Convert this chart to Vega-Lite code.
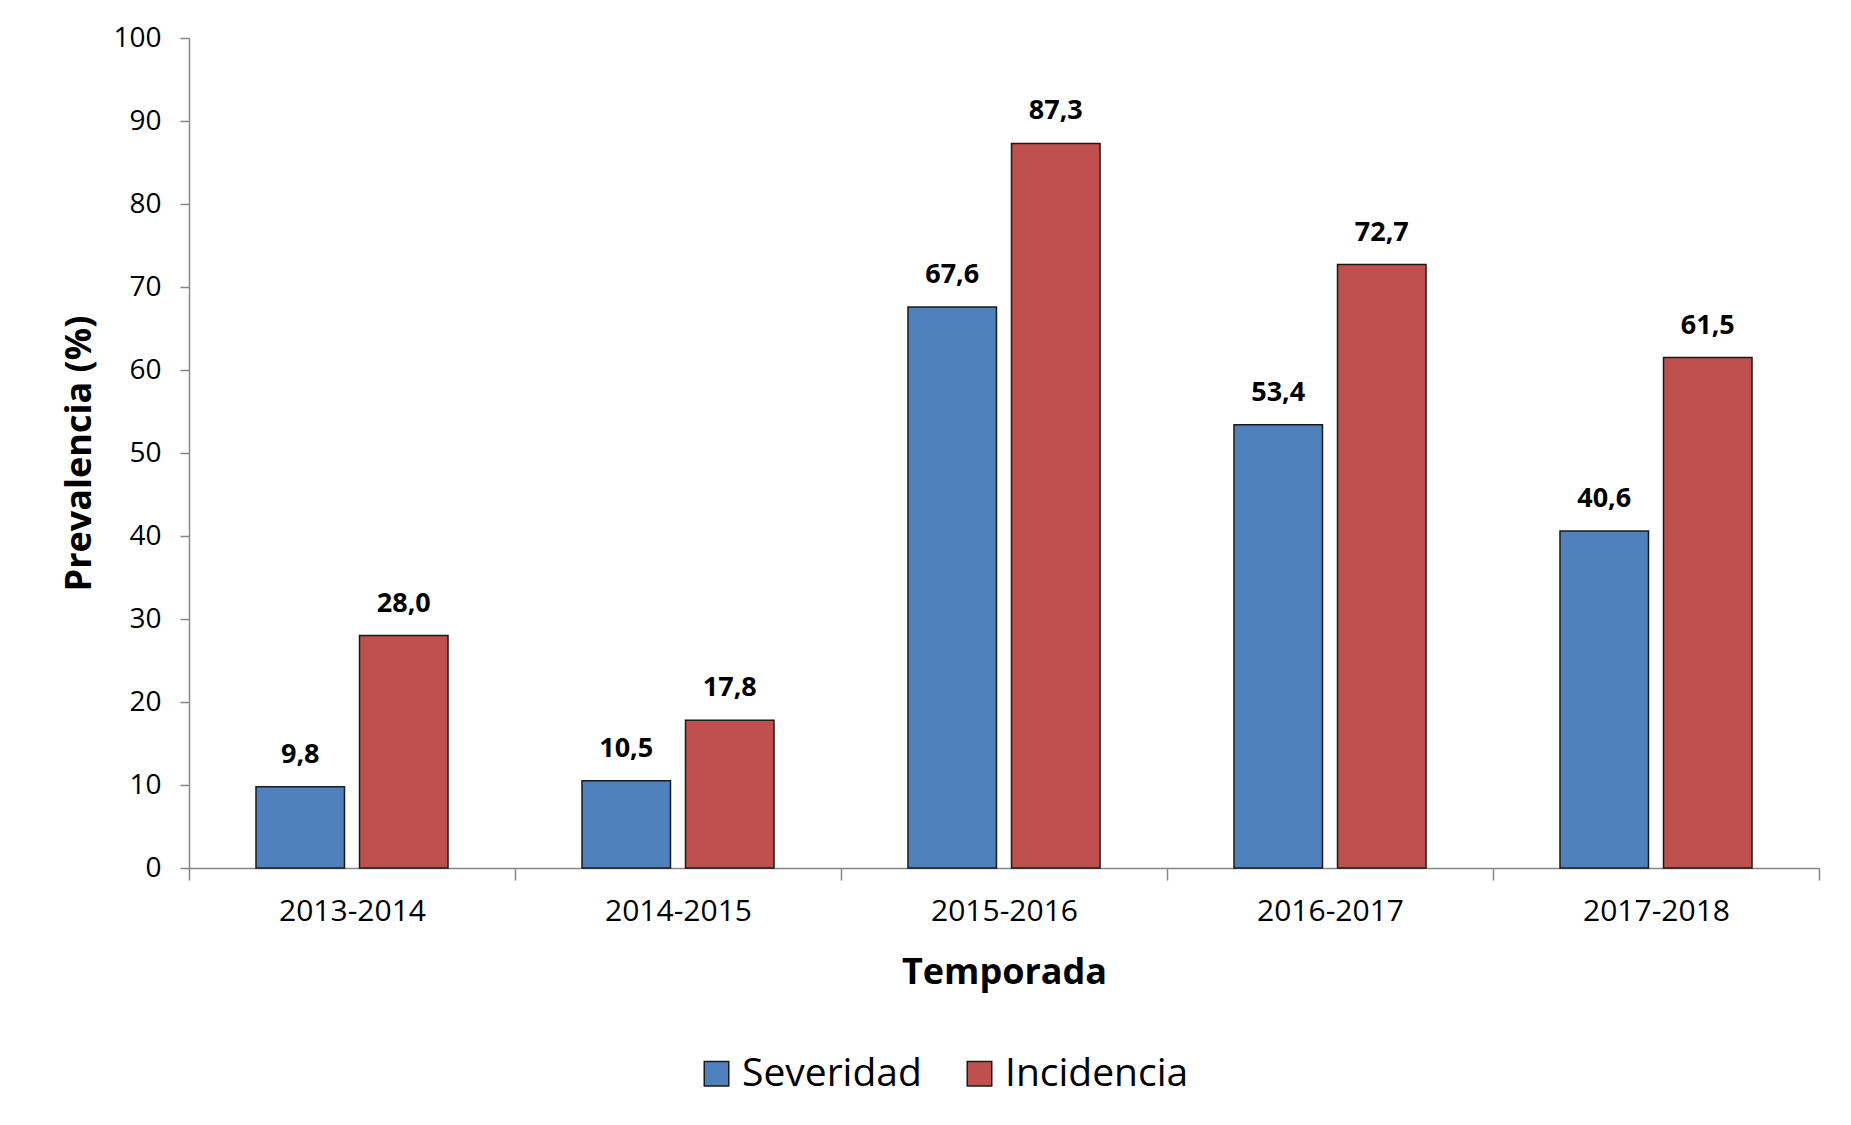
{
  "$schema": "https://vega.github.io/schema/vega-lite/v6.json",
  "width": 1630,
  "height": 830,
  "autosize": {"type": "none"},
  "padding": {"left": 189, "top": 38, "right": 32, "bottom": 257},
  "background": "white",
  "config": {
    "font": "Open Sans",
    "view": {"stroke": null},
    "locale": {"number": {"decimal": ",", "thousands": ".", "grouping": [3], "currency": ["", " €"]}}
  },
  "data": {
    "values": [
      {"temporada": "2013-2014", "serie": "Severidad", "valor": 9.8},
      {"temporada": "2013-2014", "serie": "Incidencia", "valor": 28.0},
      {"temporada": "2014-2015", "serie": "Severidad", "valor": 10.5},
      {"temporada": "2014-2015", "serie": "Incidencia", "valor": 17.8},
      {"temporada": "2015-2016", "serie": "Severidad", "valor": 67.6},
      {"temporada": "2015-2016", "serie": "Incidencia", "valor": 87.3},
      {"temporada": "2016-2017", "serie": "Severidad", "valor": 53.4},
      {"temporada": "2016-2017", "serie": "Incidencia", "valor": 72.7},
      {"temporada": "2017-2018", "serie": "Severidad", "valor": 40.6},
      {"temporada": "2017-2018", "serie": "Incidencia", "valor": 61.5}
    ]
  },
  "encoding": {
    "x": {
      "field": "temporada",
      "type": "nominal",
      "sort": null,
      "scale": {"paddingInner": 0, "paddingOuter": 0},
      "axis": {
        "title": "Temporada",
        "titleFont": "Open Sans",
        "titleFontSize": 36,
        "titleFontWeight": "bold",
        "titleColor": "#000000",
        "titleBaseline": "middle",
        "titleY": 104,
        "labelAngle": 0,
        "labelFontSize": 30,
        "labelColor": "#000000",
        "labelBaseline": "middle",
        "labelPadding": 31,
        "tickSize": 12,
        "tickBand": "extent",
        "tickColor": "#868686",
        "tickWidth": 1.5,
        "domainColor": "#868686",
        "domainWidth": 1.5,
        "grid": false
      }
    },
    "xOffset": {
      "field": "serie",
      "type": "nominal",
      "sort": ["Severidad", "Incidencia"],
      "scale": {"paddingInner": 0.145, "paddingOuter": 0.647}
    },
    "y": {
      "field": "valor",
      "type": "quantitative",
      "scale": {"domain": [0, 100], "nice": false},
      "axis": {
        "title": "Prevalencia (%)",
        "titleFont": "Open Sans",
        "titleFontSize": 36,
        "titleFontWeight": "bold",
        "titleColor": "#000000",
        "titleBaseline": "middle",
        "titleX": -110,
        "titleY": 415,
        "values": [0, 10, 20, 30, 40, 50, 60, 70, 80, 90, 100],
        "labelFontSize": 28,
        "labelColor": "#000000",
        "labelPadding": 19,
        "tickSize": 9,
        "tickColor": "#868686",
        "tickWidth": 1.5,
        "domainColor": "#868686",
        "domainWidth": 1.5,
        "grid": false
      }
    }
  },
  "layer": [
    {
      "mark": {"type": "bar", "stroke": "#1a1a1a", "strokeWidth": 1.5},
      "encoding": {
        "color": {
          "field": "serie",
          "type": "nominal",
          "scale": {"domain": ["Severidad", "Incidencia"], "range": ["#4F81BD", "#C0504D"]},
          "legend": {
            "title": null,
            "orient": "none",
            "direction": "horizontal",
            "legendX": 508,
            "legendY": 1016,
            "padding": 0,
            "symbolType": "square",
            "symbolSize": 600,
            "symbolStrokeColor": "#1a1a1a",
            "symbolStrokeWidth": 1.5,
            "symbolOpacity": 1,
            "labelFontSize": 39,
            "labelColor": "#000000",
            "labelOffset": 6,
            "columnPadding": 38,
            "labelLimit": 400
          }
        }
      }
    },
    {
      "mark": {"type": "text", "fontWeight": "bold", "fontSize": 27, "baseline": "alphabetic", "dy": -24, "color": "#000000"},
      "encoding": {
        "text": {"field": "valor", "type": "quantitative", "format": ".1f"}
      }
    }
  ]
}
